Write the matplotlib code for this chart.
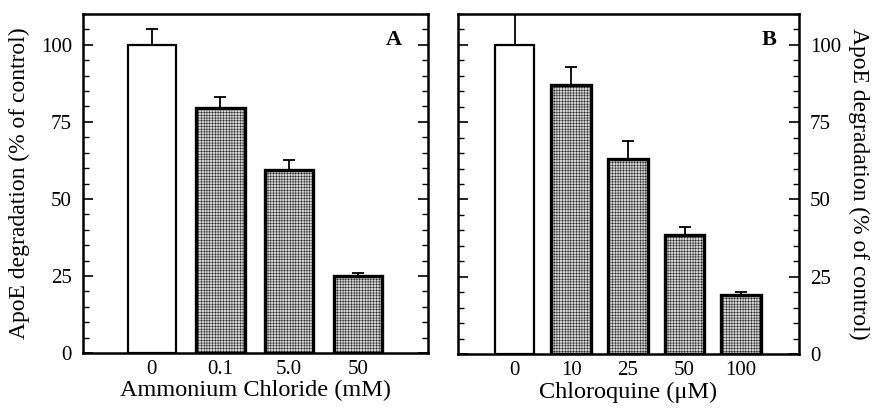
import matplotlib
matplotlib.use('Agg')
import matplotlib.pyplot as plt
import numpy as np

plt.rcParams['font.family'] = ['Liberation Serif', 'DejaVu Serif']
plt.rcParams['hatch.linewidth'] = 0.3
plt.rcParams['hatch.color'] = '#6a6a6a'

# panel A: ammonium chloride
nh4_labels = ['0', '0.1', '5.0', '50']
nh4_values = [100, 79.5, 59.5, 25]
nh4_err = [5, 3.5, 3, 1]

# panel B: chloroquine
cq_labels = ['0', '10', '25', '50', '100']
cq_values = [100, 87, 63, 38.5, 19]
cq_err = [12, 6, 6, 2.5, 1]

fig = plt.figure(figsize=(8.76, 4.08), dpi=100)
axA = fig.add_axes([83/876, 1-353/408, 345/876, 339/408])
axB = fig.add_axes([458/876, 1-354/408, 341/876, 340/408])


def draw(ax, labels, values, err, xlabel, tag, tagx, side):
    x = np.arange(len(labels))
    for i, (xi, v, e) in enumerate(zip(x, values, err)):
        if i == 0:
            ax.bar(xi, v, width=0.7, color='white', edgecolor='black', linewidth=1.6, zorder=2)
        else:
            ax.bar(xi, v, width=0.7, color='#d4d4d4', edgecolor='black', linewidth=2.4,
                   hatch='++++++', zorder=2)
        ax.errorbar(xi, v, yerr=[[0], [e]], fmt='none', ecolor='black', elinewidth=1.3,
                    capsize=4, capthick=1.3, zorder=1, clip_on=True)
    ax.set_xlim(-1.0, len(labels) - 1 + 1.02)
    ax.set_ylim(0, 110)
    ax.set_xticks(x)
    ax.set_xticklabels(labels, fontsize=15)
    ax.tick_params(axis='x', length=0, pad=5)
    ax.set_yticks([0, 25, 50, 75, 100])
    ax.set_yticks(np.arange(0, 111, 5), minor=True)
    ax.tick_params(axis='y', which='major', direction='in', length=7, width=1.2,
                   left=True, right=True, labelsize=15, pad=8)
    ax.tick_params(axis='y', which='minor', direction='in', length=4, width=1.0,
                   left=True, right=True)
    if side == 'right':
        ax.tick_params(axis='y', which='both', labelleft=False, labelright=True)
        ax.yaxis.set_label_position('right')
        ax.set_ylabel('ApoE degradation (% of control)', fontsize=17, rotation=270, labelpad=20)
    else:
        ax.set_ylabel('ApoE degradation (% of control)', fontsize=17, labelpad=8)
    for s in ax.spines.values():
        s.set_linewidth(1.8)
    ax.set_xlabel(xlabel, fontsize=17.5, labelpad=1)
    ax.text(tagx, 0.923, tag, transform=ax.transAxes, ha='right', va='center',
            fontsize=16, fontweight='bold')


draw(axA, nh4_labels, nh4_values, nh4_err, 'Ammonium Chloride (mM)', 'A', 0.925, 'left')
draw(axB, cq_labels, cq_values, cq_err, 'Chloroquine (\u03bcM)', 'B', 0.935, 'right')

fig.savefig('out.png', dpi=100)
